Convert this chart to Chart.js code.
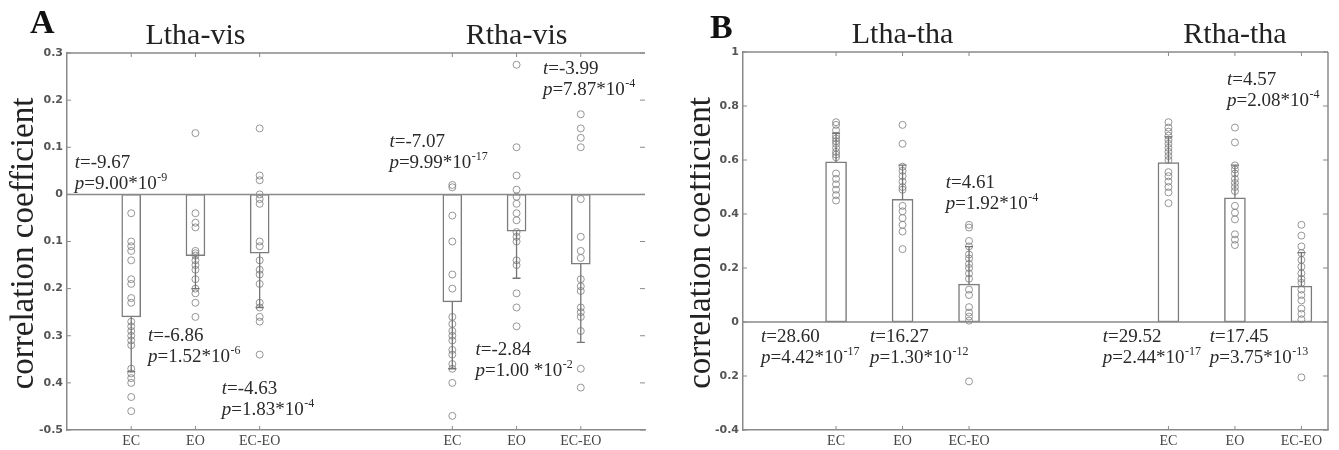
<!DOCTYPE html>
<html><head><meta charset="utf-8">
<script src="https://cdn.jsdelivr.net/npm/chart.js@4.4.1/dist/chart.umd.min.js"></script>
<style>
html,body{margin:0;padding:0;background:#fff;width:1339px;height:450px;overflow:hidden}
#a{position:absolute;left:0;top:0}
#b{position:absolute;left:690px;top:0}
</style></head><body>
<canvas id="a" width="670" height="450"></canvas>
<canvas id="b" width="649" height="450"></canvas>
<script>
// ---------- data ----------
const categories = ['EC', 'EO', 'EC-EO'];
const groupTitlesA = ['Ltha-vis', 'Rtha-vis'];
const groupTitlesB = ['Ltha-tha', 'Rtha-tha'];
const panelLabels = ['A', 'B'];
const yLabel = 'correlation coefficient';

const yTicksA = [-0.5, -0.4, -0.3, -0.2, -0.1, 0, 0.1, 0.2, 0.3];
const yTickLabelsA = ['-0.5', '0.4', '0.3', '0.2', '0.1', '0', '0.1', '0.2', '0.3'];
const yTicksB = [-0.4, -0.2, 0, 0.2, 0.4, 0.6, 0.8, 1];
const yTickLabelsB = ['-0.4', '0.2', '0', '0.2', '0.4', '0.6', '0.8', '1'];

// bar heights (mean) and error bar lengths
const lthaVisMean = [-0.26, -0.13, -0.125];
const lthaVisSD   = [0.116, 0.07, 0.115];
const rthaVisMean = [-0.228, -0.078, -0.148];
const rthaVisSD   = [0.142, 0.10, 0.166];
const lthaThaMean = [0.593, 0.454, 0.14];
const lthaThaSD   = [0.106, 0.127, 0.139];
const rthaThaMean = [0.59, 0.46, 0.133];
const rthaThaSD   = [0.096, 0.121, 0.124];

// individual subject values
const lthaVisEC   = [-0.04,-0.10,-0.11,-0.12,-0.14,-0.18,-0.19,-0.22,-0.23,-0.27,-0.28,-0.29,-0.30,-0.31,-0.32,-0.37,-0.38,-0.39,-0.40,-0.43,-0.46];
const lthaVisEO   = [0.13,-0.04,-0.06,-0.07,-0.12,-0.125,-0.13,-0.14,-0.15,-0.16,-0.18,-0.20,-0.21,-0.23,-0.26];
const lthaVisECEO = [0.14,0.04,0.03,0.0,-0.01,-0.02,-0.10,-0.11,-0.14,-0.16,-0.17,-0.19,-0.23,-0.24,-0.26,-0.27,-0.34];
const rthaVisEC   = [0.02,0.015,-0.045,-0.10,-0.17,-0.20,-0.26,-0.275,-0.29,-0.30,-0.31,-0.33,-0.34,-0.36,-0.37,-0.40,-0.47];
const rthaVisEO   = [0.275,0.10,0.04,0.01,-0.005,-0.02,-0.04,-0.055,-0.08,-0.09,-0.10,-0.14,-0.15,-0.21,-0.24,-0.28];
const rthaVisECEO = [0.17,0.14,0.12,0.10,-0.01,-0.09,-0.12,-0.135,-0.18,-0.195,-0.205,-0.24,-0.25,-0.26,-0.29,-0.37,-0.41];
const lthaThaEC   = [0.74,0.73,0.71,0.69,0.68,0.67,0.66,0.645,0.63,0.62,0.61,0.55,0.53,0.51,0.49,0.47,0.45];
const lthaThaEO   = [0.73,0.66,0.575,0.56,0.54,0.52,0.50,0.49,0.43,0.41,0.385,0.36,0.335,0.27];
const lthaThaECEO = [0.36,0.35,0.30,0.28,0.25,0.235,0.215,0.20,0.18,0.16,0.12,0.10,0.055,0.035,0.02,0.005,-0.22];
const rthaThaEC   = [0.74,0.72,0.705,0.69,0.675,0.66,0.645,0.63,0.615,0.60,0.555,0.54,0.52,0.50,0.48,0.44];
const rthaThaEO   = [0.72,0.665,0.58,0.565,0.55,0.53,0.515,0.50,0.485,0.43,0.405,0.38,0.325,0.305,0.285];
const rthaThaECEO = [0.36,0.32,0.28,0.255,0.23,0.205,0.18,0.16,0.145,0.12,0.10,0.08,0.05,0.03,0.01,-0.205];

// statistics (t value, p mantissa, p exponent)
const lthaVisT = ['-9.67', '-6.86', '-4.63'];
const lthaVisP = ['9.00', '1.52', '1.83'];
const lthaVisE = ['-9', '-6', '-4'];
const rthaVisT = ['-7.07', '-2.84', '-3.99'];
const rthaVisP = ['9.99', '1.00 ', '7.87'];
const rthaVisE = ['-17', '-2', '-4'];
const lthaThaT = ['28.60', '16.27', '4.61'];
const lthaThaP = ['4.42', '1.30', '1.92'];
const lthaThaE = ['-17', '-12', '-4'];
const rthaThaT = ['29.52', '17.45', '4.57'];
const rthaThaP = ['2.44', '3.75', '2.08'];
const rthaThaE = ['-17', '-13', '-4'];

// ---------- layout ----------
const xPos = [1, 2, 3, 6, 7, 8];
const statAnchorA = [[0.12, 0.055], [1.26, -0.311], [2.41, -0.423], [5.02, 0.101], [6.36, -0.340], [7.41, 0.256]];
const statAnchorB = [[-0.13, -0.074], [1.51, -0.074], [2.65, 0.496], [5.01, -0.074], [6.62, -0.074], [6.88, 0.878]];

const SERIF = '"Liberation Serif", "Times New Roman", serif';
const AXIS = '#8a8a8a';

function drawStat(ctx, x, y, t, pm, pe) {
  ctx.save();
  ctx.fillStyle = '#2a2a2a';
  ctx.textAlign = 'left';
  ctx.textBaseline = 'alphabetic';
  let cx = x;
  ctx.font = 'italic 19px ' + SERIF; ctx.fillText('t', cx, y); cx += ctx.measureText('t').width;
  ctx.font = '19px ' + SERIF; ctx.fillText('=' + t, cx, y);
  const y2 = y + 21;
  cx = x;
  ctx.font = 'italic 19px ' + SERIF; ctx.fillText('p', cx, y2); cx += ctx.measureText('p').width;
  ctx.font = '19px ' + SERIF; const s = '=' + pm + '*10'; ctx.fillText(s, cx, y2); cx += ctx.measureText(s).width;
  ctx.font = '12px ' + SERIF; ctx.fillText(pe, cx + 0.5, y2 - 8);
  ctx.restore();
}

function makeChart(id, o) {
  const bars = [], points = [], errs = [];
  o.means.forEach((m, gi) => m.forEach((v, i) => {
    const x = xPos[gi * 3 + i];
    bars.push({x: x, y: v});
    errs.push({x: x, m: v, sd: o.sds[gi][i]});
  }));
  o.values.forEach((g, gi) => g.forEach((arr, i) => {
    const x = xPos[gi * 3 + i];
    arr.forEach(v => points.push({x: x, y: v}));
  }));

  const deco = {
    id: 'deco' + id,
    afterDatasetsDraw(chart) {
      const ctx = chart.ctx, xs = chart.scales.x, ys = chart.scales.y, a = chart.chartArea;
      ctx.save();
      // error bars
      ctx.strokeStyle = '#747474'; ctx.lineWidth = 1.3;
      errs.forEach(e => {
        const px = xs.getPixelForValue(e.x);
        const y0 = ys.getPixelForValue(e.m);
        const y1 = ys.getPixelForValue(e.m + Math.sign(e.m) * e.sd);
        ctx.beginPath(); ctx.moveTo(px, y0); ctx.lineTo(px, y1);
        ctx.moveTo(px - 4, y1); ctx.lineTo(px + 4, y1); ctx.stroke();
      });
      // frame: top line, zero line, right line
      ctx.strokeStyle = AXIS; ctx.lineWidth = 1.5;
      const z = ys.getPixelForValue(0);
      ctx.beginPath();
      ctx.moveTo(a.left, a.top); ctx.lineTo(a.right, a.top);
      ctx.moveTo(a.left, z); ctx.lineTo(a.right, z);
      if (o.rightLine) { ctx.moveTo(a.right, a.top); ctx.lineTo(a.right, a.bottom); }
      ctx.stroke();
      // inward ticks
      ctx.lineWidth = 1;
      ctx.beginPath();
      ys.ticks.forEach(t => {
        const py = ys.getPixelForValue(t.value);
        ctx.moveTo(a.left, py); ctx.lineTo(a.left + 4, py);
        ctx.moveTo(a.right - 5, py); ctx.lineTo(a.right, py);
      });
      xs.ticks.forEach(t => {
        const px = xs.getPixelForValue(t.value);
        ctx.moveTo(px, a.top); ctx.lineTo(px, a.top + 4);
        ctx.moveTo(px, a.bottom); ctx.lineTo(px, a.bottom - 4);
      });
      ctx.stroke();
      ctx.restore();
    },
    afterDraw(chart) {
      const ctx = chart.ctx, xs = chart.scales.x, ys = chart.scales.y, a = chart.chartArea;
      ctx.save();
      // panel label
      ctx.fillStyle = '#111';
      ctx.font = 'bold 34px ' + SERIF; ctx.textAlign = 'left'; ctx.textBaseline = 'alphabetic';
      ctx.fillText(o.panel, o.panelX, o.panelY);
      // group titles
      ctx.fillStyle = '#222';
      ctx.font = '30px ' + SERIF; ctx.textAlign = 'center';
      o.titles.forEach((t, gi) => ctx.fillText(t, xs.getPixelForValue(xPos[gi * 3 + 1]), o.titleY));
      // y title
      ctx.save();
      ctx.translate(o.yTitleX, (a.top + a.bottom) / 2 + 2);
      ctx.rotate(-Math.PI / 2);
      ctx.font = '33px ' + SERIF; ctx.textAlign = 'center'; ctx.fillStyle = '#222';
      ctx.fillText(yLabel, 0, 0);
      ctx.restore();
      // statistics
      o.stats.forEach((s, k) => {
        const an = o.anchors[k];
        drawStat(ctx, xs.getPixelForValue(an[0]), ys.getPixelForValue(an[1]), s[0], s[1], s[2]);
      });
      ctx.restore();
    }
  };

  return new Chart(document.getElementById(id), {
    type: 'bar',
    data: {
      datasets: [
        {type: 'bar', data: bars, backgroundColor: '#ffffff', borderColor: '#7c7c7c',
         borderWidth: 1.5, borderSkipped: false, barThickness: o.barW, order: 2},
        {type: 'scatter', data: points, pointRadius: 3.5, pointStyle: 'circle',
         pointBorderColor: 'rgba(125,125,125,0.8)', pointBackgroundColor: 'rgba(0,0,0,0)',
         pointBorderWidth: 1, order: 1}
      ]
    },
    options: {
      responsive: false, animation: false,
      layout: {padding: {top: o.padTop, right: o.padRight, left: 0, bottom: 0}},
      plugins: {legend: {display: false}, tooltip: {enabled: false}},
      scales: {
        x: {
          type: 'linear', min: o.xMin, max: o.xMax, offset: false,
          afterBuildTicks: s => { s.ticks = xPos.map(v => ({value: v})); },
          afterFit: s => { s.height = 20; },
          grid: {display: false, drawTicks: false},
          border: {display: true, color: AXIS, width: 1.5},
          ticks: {autoSkip: false, maxRotation: 0, padding: 3, color: '#444',
                  font: {family: SERIF, size: 14},
                  callback: (v, i) => categories[i % 3]}
        },
        y: {
          type: 'linear', min: o.yTicks[0], max: o.yTicks[o.yTicks.length - 1],
          afterBuildTicks: s => { s.ticks = o.yTicks.map(v => ({value: v})); },
          afterFit: s => { s.width = o.yW; },
          grid: {display: false, drawTicks: false},
          border: {display: true, color: AXIS, width: 1.5},
          ticks: {padding: 4, color: '#555', font: {family: 'DejaVu Sans', size: 11, weight: 'bold'},
                  callback: (v, i) => o.yTickLabels[i]}
        }
      }
    },
    plugins: [deco]
  });
}

makeChart('a', {
  means: [lthaVisMean, rthaVisMean], sds: [lthaVisSD, rthaVisSD],
  values: [[lthaVisEC, lthaVisEO, lthaVisECEO], [rthaVisEC, rthaVisEO, rthaVisECEO]],
  stats: [0,1,2].map(i => [lthaVisT[i], lthaVisP[i], lthaVisE[i]]).concat([0,1,2].map(i => [rthaVisT[i], rthaVisP[i], rthaVisE[i]])),
  anchors: statAnchorA, titles: groupTitlesA, panel: panelLabels[0], panelX: 30, panelY: 33, titleY: 44,
  yTicks: yTicksA, yTickLabels: yTickLabelsA, xMin: 0, xMax: 9, yW: 67, padTop: 53, padRight: 25,
  barW: 19, rightLine: false, yTitleX: 33
});

makeChart('b', {
  means: [lthaThaMean, rthaThaMean], sds: [lthaThaSD, rthaThaSD],
  values: [[lthaThaEC, lthaThaEO, lthaThaECEO], [rthaThaEC, rthaThaEO, rthaThaECEO]],
  stats: [0,1,2].map(i => [lthaThaT[i], lthaThaP[i], lthaThaE[i]]).concat([0,1,2].map(i => [rthaThaT[i], rthaThaP[i], rthaThaE[i]])),
  anchors: statAnchorB, titles: groupTitlesB, panel: panelLabels[1], panelX: 20, panelY: 38, titleY: 43,
  yTicks: yTicksB, yTickLabels: yTickLabelsB, xMin: -0.4, xMax: 8.4, yW: 53, padTop: 52, padRight: 11,
  barW: 21, rightLine: true, yTitleX: 20
});
</script>
</body></html>
